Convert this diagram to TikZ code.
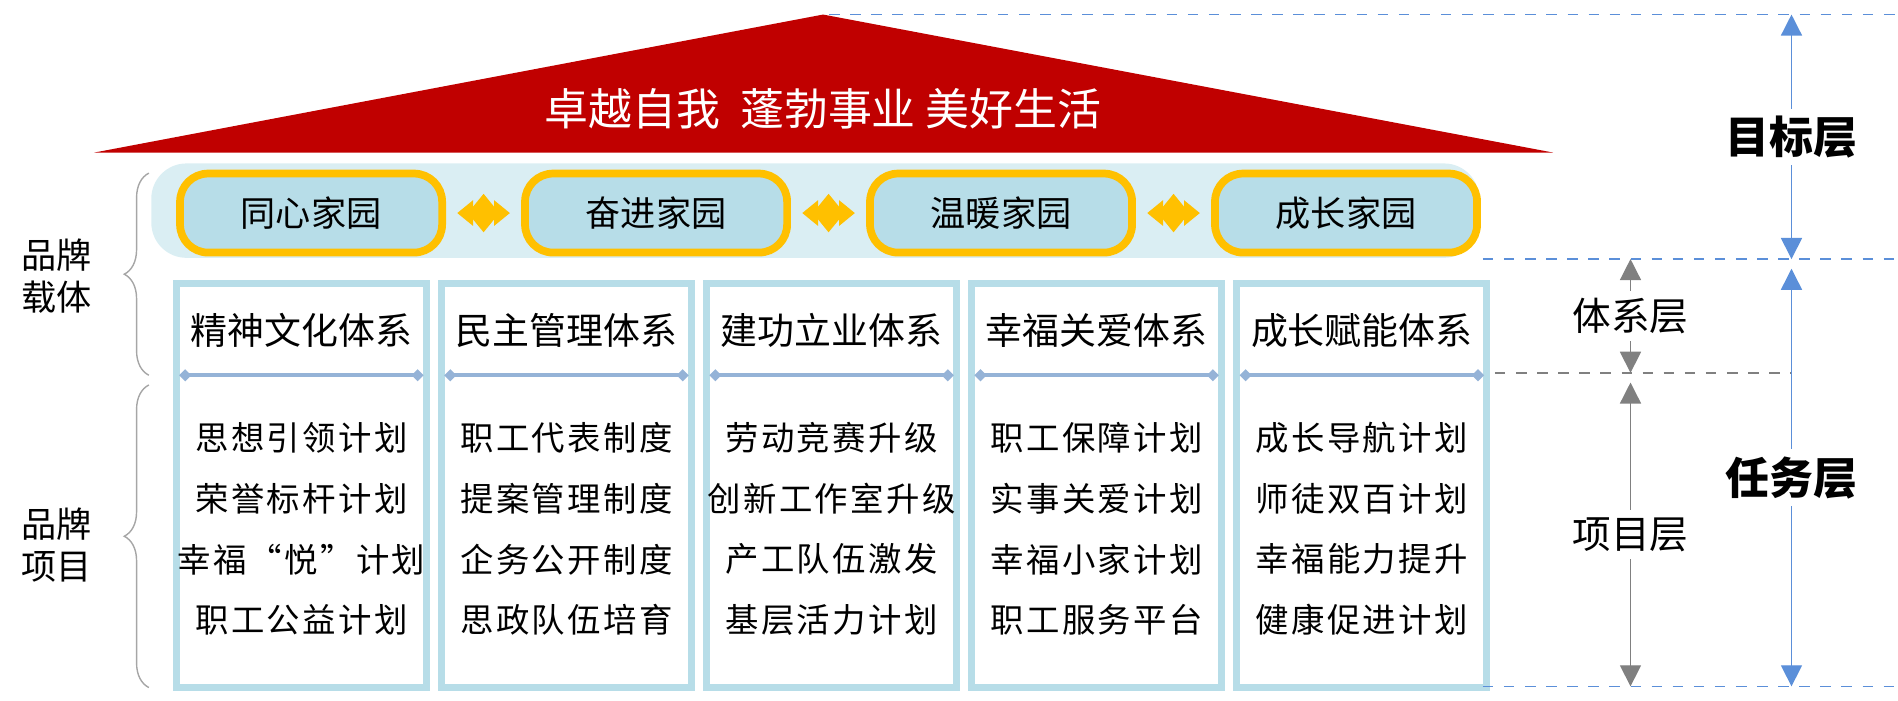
\documentclass[tikz,border=0pt]{standalone}
\usepackage{fontspec}
\setmainfont{Noto Sans CJK SC}
\usetikzlibrary{arrows.meta,decorations.pathreplacing,calc}
\definecolor{roofred}{HTML}{C00000}
\definecolor{bandblue}{HTML}{DAEEF3}
\definecolor{homeblue}{HTML}{B7DDE8}
\definecolor{homegold}{HTML}{FFC000}
\definecolor{rulemark}{HTML}{95B3D7}
\definecolor{layerblue}{HTML}{5B8FD9}
\tikzset{
  home/.style={draw=homegold, fill=homeblue, line width=2.2pt, rounded corners=8pt,
    minimum width=2.62cm, minimum height=0.79cm, font=\fontsize{10}{12}\selectfont},
  sysbox/.style={draw=homeblue, line width=2pt, minimum width=2.5cm, minimum height=4.04cm},
  systitle/.style={font=\fontsize{10.5}{12}\selectfont},
  item/.style={font=\fontsize{9.5}{12}\selectfont, align=center},
  layer/.style={text=black, font=\bfseries\fontsize{12.5}{14}\selectfont, fill=white, inner sep=2pt},
  sublayer/.style={text=black, font=\fontsize{11}{13}\selectfont, fill=white, inner sep=2pt},
  side/.style={font=\fontsize{10}{12}\selectfont, align=center},
  brace/.style={draw=gray!70, decorate, decoration={brace, amplitude=7pt}},
  cross/.style={homegold, line width=2.5pt, {Triangle[width=7pt,length=4.5pt]}-{Triangle[width=7pt,length=4.5pt]}}
}
\begin{document}
\begin{tikzpicture}[x=0.0121cm, y=-0.0121cm]
\useasboundingbox (0,0) rectangle (1568,579);

% roof
\fill[roofred] (78,126) -- (680,12) -- (1283,126) -- cycle;
\node[text=white, font=\fontsize{12.5}{14}\selectfont] (goal) at (680,90) {卓越自我\ \ 蓬勃事业 美好生活};

% homes
\fill[bandblue, rounded corners=10pt] (125,135) rectangle (1222,213);
\node[home] (h1) at (257,176) {同心家园};
\node[home] (h2) at (542,176) {奋进家园};
\node[home] (h3) at (827,176) {温暖家园};
\node[home] (h4) at (1112,176) {成长家园};
\foreach \a/\b in {h1/h2, h2/h3, h3/h4} {
  \coordinate (m) at ($(\a.east)!0.5!(\b.west)$);
  \draw[cross] ([xshift=-7.5pt]m) -- ([xshift=7.5pt]m);
  \draw[cross] ([yshift=-5.5pt]m) -- ([yshift=5.5pt]m);
}

% systems
\foreach \i/\x/\t/\pa/\pb/\pc/\pd in {
  1/249/精神文化体系/思想引领计划/荣誉标杆计划/幸福“悦”计划/职工公益计划,
  2/468/民主管理体系/职工代表制度/提案管理制度/企务公开制度/思政队伍培育,
  3/687/建功立业体系/劳动竞赛升级/创新工作室升级/产工队伍激发/基层活力计划,
  4/906/幸福关爱体系/职工保障计划/实事关爱计划/幸福小家计划/职工服务平台,
  5/1125/成长赋能体系/成长导航计划/师徒双百计划/幸福能力提升/健康促进计划} {
  \node[sysbox] (s\i) at (\x,401) {};
  \node[systitle] (t\i) at (\x,273) {\t};
  \draw[rulemark, line width=1.2pt] (\x-93,310) -- (\x+93,310);
  \fill[rulemark] (\x-96,305) -- (\x-91,310) -- (\x-96,315) -- (\x-101,310) -- cycle;
  \fill[rulemark] (\x+96,305) -- (\x+101,310) -- (\x+96,315) -- (\x+91,310) -- cycle;
  \node[item] (a\i) at (\x,362) {\addfontfeatures{LetterSpace=7}\pa};
  \node[item] (b\i) at (\x,412) {\addfontfeatures{LetterSpace=7}\pb};
  \node[item] (c\i) at (\x,462) {\addfontfeatures{LetterSpace=7}\pc};
  \node[item] (d\i) at (\x,512) {\addfontfeatures{LetterSpace=7}\pd};
}

% left labels
\node[side] (carrier) at (47,228) {品牌\\载体};
\node[side] (project) at (47,450) {品牌\\项目};
\coordinate (bt1) at (123,143); \coordinate (bb1) at (123,310);
\coordinate (bt2) at (123,318); \coordinate (bb2) at (123,568);
\draw[brace] (bb1) -- (bt1);
\draw[brace] (bb2) -- (bt2);

% layers
\draw[layerblue, dashed, thin] (685,12) -- (1568,12);
\draw[layerblue, dashed, thin] (1225,214) -- (1568,214);
\draw[gray, dashed, thin] (1235,308) -- (1480,308);
\draw[layerblue, dashed, thin] (1225,567) -- (1568,567);
\coordinate (g1) at (1480,12); \coordinate (g2) at (1480,214);
\coordinate (g3) at (1480,222); \coordinate (g4) at (1480,567);
\coordinate (k1) at (1347,214); \coordinate (k2) at (1347,308);
\coordinate (k3) at (1347,316); \coordinate (k4) at (1347,567);
\draw[layerblue, {Triangle[width=6pt,length=6pt]}-{Triangle[width=6pt,length=6pt]}] (g1) -- (g2)
  node[midway, layer] (goallayer) {目标层};
\draw[layerblue, {Triangle[width=6pt,length=6pt]}-{Triangle[width=6pt,length=6pt]}] (g3) -- (g4)
  node[pos=0.5, layer] (tasklayer) {任务层};
\draw[gray, {Triangle[width=6pt,length=6pt]}-{Triangle[width=6pt,length=6pt]}] (k1) -- (k2)
  node[midway, sublayer] (syslayer) {体系层};
\draw[gray, {Triangle[width=6pt,length=6pt]}-{Triangle[width=6pt,length=6pt]}] (k3) -- (k4)
  node[pos=0.5, sublayer] (projlayer) {项目层};
\end{tikzpicture}
\end{document}
